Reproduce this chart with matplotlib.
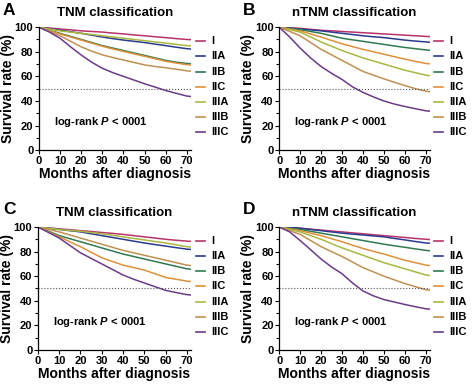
import numpy as np
import matplotlib
matplotlib.use('Agg')
import matplotlib.pyplot as plt

plt.rcParams['font.family'] = ['Liberation Sans', 'DejaVu Sans']
plt.rcParams['font.weight'] = 'bold'
plt.rcParams['mathtext.fontset'] = 'custom'
plt.rcParams['mathtext.it'] = 'Liberation Sans:italic:bold'
plt.rcParams['mathtext.rm'] = 'Liberation Sans:bold'

months = [0, 5, 10, 15, 20, 25, 30, 35, 40, 45, 50, 55, 60, 65, 70, 72]
stages = ['I', 'IIA', 'IIB', 'IIC', 'IIIA', 'IIIB', 'IIIC']
colors = ['#b8336a', '#2a3a8f', '#2f7a4f', '#e0903a', '#a8b840', '#c09050', '#6b3b8a']

# panel A - TNM classification
a_I    = [100, 99.3, 98.5, 97.8, 97, 96.5, 96, 95.2, 94.5, 93.7, 93, 92.2, 91.5, 90.7, 90, 89.8]
a_IIA  = [100, 98.8, 97.5, 96.3, 95, 93.5, 92, 90.7, 89.5, 88.5, 87.5, 86.2, 85, 83.7, 82.5, 82.2]
a_IIB  = [100, 97.5, 95, 92.5, 90, 87.5, 85, 83, 81, 79, 77, 75, 73, 71.5, 70.5, 70.2]
a_IIC  = [100, 97.3, 94.5, 92, 89.5, 87, 84.5, 82.3, 80.3, 78.3, 76.3, 74.3, 72.3, 70.8, 69.5, 69.2]
a_IIIA = [100, 98.5, 97, 96, 95, 94, 93, 92, 91, 90, 89, 88, 87, 86, 85, 84.8]
a_IIIB = [100, 96.5, 93, 88.5, 84, 80.5, 77.5, 75.3, 73.3, 71.3, 69.3, 68, 67, 65.8, 64.5, 64.2]
a_IIIC = [100, 96, 91, 84, 77.4, 71.5, 66.6, 63, 60, 57, 54, 51.3, 48.5, 46.2, 44, 43.6]

# panel B - nTNM classification
b_I    = [100, 99.5, 99, 98.2, 97.5, 97, 96.5, 96, 95.5, 95, 94.5, 94, 93.5, 93, 92.5, 92.3]
b_IIA  = [100, 99.3, 98.5, 97.8, 97, 96, 95, 94, 93, 92.2, 91.5, 90.5, 89.5, 88.7, 88, 87.8]
b_IIB  = [100, 99, 98, 96.5, 95, 93, 91, 89.7, 88.5, 87.2, 86, 84.7, 83.5, 82.5, 81.5, 81.2]
b_IIC  = [100, 98.5, 97, 94.5, 92, 89.2, 86.5, 84.2, 82, 80, 78, 76, 74, 72.2, 70.5, 70.2]
b_IIIA = [100, 98, 96, 92, 88, 84.5, 81, 78, 75, 72.5, 70, 67.5, 65, 63, 61, 60.5]
b_IIIB = [100, 96.5, 93, 87.5, 82, 77.5, 73, 68.5, 64, 61, 58, 55.2, 52.5, 50, 48, 47.5]
b_IIIC = [100, 92, 83, 75, 68, 62.5, 57.5, 51.5, 47, 43.3, 40, 37.5, 35.5, 33.7, 32, 31.7]

# panel C - TNM classification
c_I    = [100, 99.3, 98.5, 97.8, 97, 96.3, 95.5, 94.8, 94, 93, 92, 91, 90, 89.2, 88.5, 88.3]
c_IIA  = [100, 99, 98, 97, 96, 94.5, 93, 91.5, 90, 88.5, 87, 85.7, 84.5, 83.2, 82, 81.7]
c_IIB  = [100, 96.5, 93, 90.5, 88, 85.5, 83, 80.5, 78, 76, 74, 72, 70, 68, 66, 65.6]
c_IIC  = [100, 96, 92, 88, 84, 79.5, 75, 72, 69, 67, 65, 62, 59, 57.5, 56, 55.6]
c_IIIA = [100, 99, 98, 97.2, 96.5, 95.5, 94.5, 93.3, 92, 90.7, 89.5, 88.2, 87, 85.5, 84, 83.7]
c_IIIB = [100, 98, 96, 93.5, 91, 88.5, 86, 83.5, 81, 79, 77, 75, 73, 71, 69, 68.6]
c_IIIC = [100, 95.5, 91, 85, 79, 74.5, 70, 65.5, 61, 57.5, 54.5, 51.5, 48.5, 46.7, 45, 44.7]

# panel D - nTNM classification
d_I    = [100, 99.5, 99, 98.2, 97.5, 96.7, 96, 95.2, 94.5, 93.7, 93, 92.2, 91.5, 90.7, 90, 89.8]
d_IIA  = [100, 99.5, 99, 98, 97, 96, 95, 94.2, 93.5, 92.7, 92, 90.7, 89.5, 88.2, 87, 86.8]
d_IIB  = [100, 99, 98, 96.5, 95, 93.5, 92, 90.5, 89, 87.5, 86, 84.7, 83.5, 82.2, 81, 80.7]
d_IIC  = [100, 98.5, 97, 95, 93, 90.5, 88, 85.2, 82.5, 80.2, 78, 75.5, 73, 71, 69, 68.6]
d_IIIA = [100, 98, 96, 93, 90, 86.5, 83, 80, 77, 74, 71, 68.5, 66, 63.5, 61, 60.5]
d_IIIB = [100, 97, 94, 89, 84, 80, 76, 71.5, 67, 63.5, 60, 57, 54, 51.5, 49, 48.6]
d_IIIC = [100, 96, 89, 81.5, 74, 67.5, 62, 54.5, 48, 44, 41, 39, 37, 35.2, 33.5, 33.2]

panels = [
    ('A', 'TNM classification', [a_I, a_IIA, a_IIB, a_IIC, a_IIIA, a_IIIB, a_IIIC]),
    ('B', 'nTNM classification', [b_I, b_IIA, b_IIB, b_IIC, b_IIIA, b_IIIB, b_IIIC]),
    ('C', 'TNM classification', [c_I, c_IIA, c_IIB, c_IIC, c_IIIA, c_IIIB, c_IIIC]),
    ('D', 'nTNM classification', [d_I, d_IIA, d_IIB, d_IIC, d_IIIA, d_IIIB, d_IIIC]),
]

fig = plt.figure(figsize=(4.74, 3.88), dpi=100)
rects = [[0.082, 0.613, 0.321, 0.317],
         [0.589, 0.613, 0.318, 0.317],
         [0.080, 0.098, 0.323, 0.317],
         [0.589, 0.098, 0.318, 0.317]]
# letter positions in pixels (left, top)
letter_pos = [(3, 3), (243, 3), (3, 202), (243, 202)]

for (letter, title, series), rect, (lx, ly) in zip(panels, rects, letter_pos):
    ax = fig.add_axes(rect)
    for vals, col in zip(series, colors):
        ax.plot(months, vals, color=col, lw=1.1)
    ax.axhline(50, color='#555555', ls=':', lw=0.8)
    ax.set_xlim(0, 72)
    ax.set_ylim(0, 100)
    ax.set_xticks(range(0, 71, 10))
    ax.set_yticks(range(0, 101, 20))
    ax.set_yticks(range(10, 100, 20), minor=True)
    ax.tick_params(labelsize=8, length=3, width=0.8, pad=1)
    ax.tick_params(which='minor', length=2, width=0.8)
    for lab in ax.get_xticklabels() + ax.get_yticklabels():
        lab.set_fontweight('bold')
    ax.spines['top'].set_visible(False)
    ax.spines['right'].set_visible(False)
    ax.spines['left'].set_linewidth(0.9)
    ax.spines['bottom'].set_linewidth(0.9)
    ax.set_xlabel('Months after diagnosis', fontsize=10, fontweight='bold', labelpad=1)
    ax.set_ylabel('Survival rate (%)', fontsize=10, fontweight='bold', labelpad=0)
    ax.set_title(title, fontsize=9.5, fontweight='bold', pad=8)
    fig.text(lx / 474, 1 - ly / 388, letter, fontsize=12.5,
             fontweight='bold', ha='left', va='top')
    ax.text(7, 23, r'log-rank $P$ < 0001', fontsize=8, fontweight='bold',
            va='center', ha='left')
    for i, (st, col) in enumerate(zip(stages, colors)):
        y = 0.886 - i * 0.1233
        ax.plot([1.03, 1.09], [y, y], color=col, lw=1.2,
                transform=ax.transAxes, clip_on=False)
        ax.text(1.13, y, st, transform=ax.transAxes, fontsize=8,
                fontweight='bold', va='center', ha='left')

fig.savefig('out.png', dpi=100)
